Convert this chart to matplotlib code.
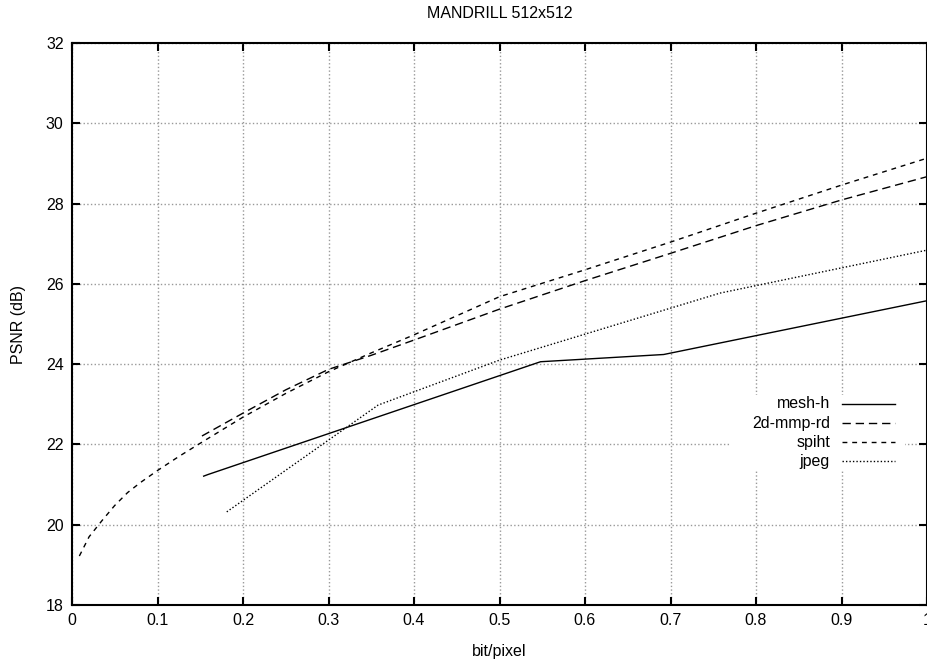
import matplotlib
matplotlib.use("Agg")
import matplotlib.pyplot as plt
from matplotlib.patches import Rectangle
from matplotlib.lines import Line2D

plt.rcParams['font.family'] = ['Liberation Sans', 'DejaVu Sans']

# curves (bit/pixel, PSNR dB)
mesh_x = [0.154, 0.159, 0.548, 0.692, 1.0]
mesh_y = [21.21, 21.25, 24.06, 24.24, 25.58]

mmp_x = [0.152, 0.2, 0.25, 0.3, 0.35, 0.4, 0.5, 0.6, 0.7, 0.8, 0.9, 1.0]
mmp_y = [22.21, 22.78, 23.36, 23.87, 24.22, 24.6, 25.37, 26.08, 26.76, 27.45, 28.09, 28.67]

spiht_x = [0.0086, 0.02, 0.035, 0.05, 0.065, 0.08, 0.1, 0.125, 0.15, 0.2, 0.25,
           0.3, 0.35, 0.4, 0.5, 0.6, 0.7, 0.8, 0.9, 1.0]
spiht_y = [19.22, 19.7, 20.1, 20.48, 20.8, 21.05, 21.35, 21.7, 22.03, 22.68, 23.27,
           23.81, 24.28, 24.73, 25.68, 26.35, 27.04, 27.76, 28.46, 29.13]

jpeg_x = [0.181, 0.358, 0.5, 0.758, 1.0]
jpeg_y = [20.32, 22.98, 24.1, 25.77, 26.84]

labels = ['mesh-h', '2d-mmp-rd', 'spiht', 'jpeg']
styles = ['-', (0, (6, 3.5)), (0, (3.5, 3.5)), (0, (1, 1.5))]

fig = plt.figure(figsize=(9.27, 6.64), dpi=100)
ax = fig.add_axes([72/927, 59/664, 855/927, 562/664])

series = [(mesh_x, mesh_y), (mmp_x, mmp_y), (spiht_x, spiht_y), (jpeg_x, jpeg_y)]
for (xs, ys), ls in zip(series, styles):
    ax.plot(xs, ys, color='black', linestyle=ls, linewidth=1.0, zorder=3)

ax.set_xlim(0, 1)
ax.set_ylim(18, 32)
ax.set_xticks([i/10 for i in range(11)])
ax.set_xticklabels(['0', '0.1', '0.2', '0.3', '0.4', '0.5', '0.6', '0.7', '0.8', '0.9', '1'])
ax.set_yticks(range(18, 33, 2))
ax.grid(True, color='#999999', linestyle=':', linewidth=1.0)
ax.set_axisbelow(True)
ax.tick_params(direction='in', length=6, width=1.5, top=True, right=True,
               labelsize=11.5, pad=6)
for s in ax.spines.values():
    s.set_linewidth(1.5)

ax.set_title('MANDRILL 512x512', fontsize=11.5, pad=18)
ax.set_xlabel('bit/pixel', fontsize=11.5, labelpad=11)
ax.set_ylabel('PSNR (dB)', fontsize=11.5, labelpad=14)

# gnuplot style key: right-aligned text, sample to the right
ax.add_patch(Rectangle((0.77, 0.24), 0.204, 0.134, transform=ax.transAxes,
                       facecolor='white', edgecolor='none', zorder=2))
rows = [0.3577, 0.3238, 0.29, 0.2562]
for lab, ls, yy in zip(labels, styles, rows):
    ax.text(0.8865, yy, lab, transform=ax.transAxes, ha='right', va='center',
            fontsize=11.5, zorder=4)
    ax.add_line(Line2D([0.9006, 0.9626], [yy, yy], transform=ax.transAxes,
                       color='black', linestyle=ls, linewidth=1.0, zorder=4))

fig.savefig('out.png', dpi=100)
